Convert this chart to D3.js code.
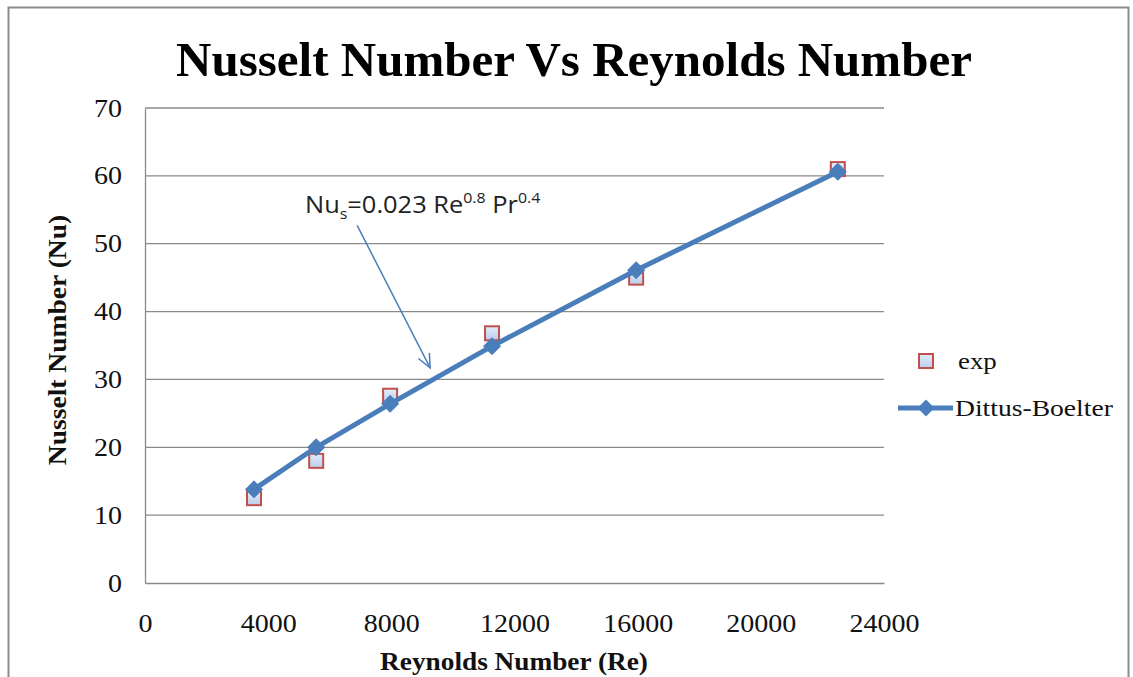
<!DOCTYPE html>
<html>
<head>
<meta charset="utf-8">
<script src="https://cdn.jsdelivr.net/npm/d3@7"></script>
<style>
  html, body { margin: 0; padding: 0; background: #fff; }
  svg { display: block; }
</style>
</head>
<body>
<svg id="chart" width="1133" height="677"></svg>
<script>
// Reynolds numbers of the test runs
const reynolds = [3540, 5560, 7960, 11270, 15950, 22500];
// Measured Nusselt numbers
const expNu = [12.5, 18.0, 27.6, 36.8, 45.0, 61.0];
// Dittus-Boelter correlation values
const dbNu = [13.8, 20.0, 26.4, 34.9, 46.1, 60.6];
// Axis ticks
const xTicks = [0, 4000, 8000, 12000, 16000, 20000, 24000];
const yTicks = [0, 10, 20, 30, 40, 50, 60, 70];
// Callout arrow for the correlation (data coordinates: tail then head)
const calloutTail = [6890, 52.7];
const calloutHead = [9260, 31.7];

const svg = d3.select("#chart");
const serif = "'Liberation Serif', 'Times New Roman', serif";
const wide = 1.12; // horizontal stretch of the labels

// outer chart frame
svg.append("rect")
  .attr("x", 8.5).attr("y", 7.5)
  .attr("width", 1120).attr("height", 680)
  .attr("fill", "#fff").attr("stroke", "#8c8c8c").attr("stroke-width", 2);

const plot = { left: 145, right: 884, top: 108, bottom: 583 };
const x = d3.scaleLinear().domain([0, 24000]).range([plot.left, plot.right]);
const y = d3.scaleLinear().domain([0, 70]).range([plot.bottom, plot.top]);

// horizontal gridlines
svg.append("g").selectAll("line")
  .data(yTicks.filter(v => v > 0))
  .join("line")
  .attr("x1", plot.left).attr("x2", plot.right)
  .attr("y1", d => y(d)).attr("y2", d => y(d))
  .attr("stroke", "#8a8a8a").attr("stroke-width", 1.3);

// y axis
const yAxis = svg.append("g")
  .attr("transform", `translate(${plot.left},0)`)
  .call(d3.axisLeft(y).tickValues(yTicks).tickSize(0).tickPadding(23));
yAxis.select(".domain").attr("stroke", "#8a8a8a").attr("stroke-width", 1.3);
yAxis.selectAll("text")
  .attr("font-family", serif).attr("font-size", 25).attr("fill", "#111")
  .attr("transform", function () {
    const tx = +d3.select(this).attr("x");
    return `translate(${tx},0) scale(${wide},1) translate(${-tx},0)`;
  });

// x axis
const xAxis = svg.append("g")
  .attr("transform", `translate(0,${plot.bottom})`)
  .call(d3.axisBottom(x).tickValues(xTicks).tickFormat(d3.format("d")).tickSize(0).tickPadding(31));
xAxis.select(".domain").attr("stroke", "#8a8a8a").attr("stroke-width", 1.3);
xAxis.selectAll("text")
  .attr("font-family", serif).attr("font-size", 25).attr("fill", "#111")
  .attr("transform", `scale(${wide},1)`);

// title
svg.append("text")
  .attr("x", 574).attr("y", 76)
  .attr("text-anchor", "middle")
  .attr("font-family", serif).attr("font-weight", "bold").attr("font-size", 49)
  .attr("fill", "#000")
  .text("Nusselt Number Vs Reynolds Number");

// axis titles
svg.append("text")
  .attr("transform", "translate(514,670) scale(1.05,1)")
  .attr("text-anchor", "middle")
  .attr("font-family", serif).attr("font-weight", "bold").attr("font-size", 26)
  .attr("fill", "#111")
  .text("Reynolds Number (Re)");

svg.append("text")
  .attr("transform", "translate(66,340) rotate(-90) scale(1.06,1)")
  .attr("text-anchor", "middle")
  .attr("font-family", serif).attr("font-weight", "bold").attr("font-size", 26)
  .attr("fill", "#111")
  .text("Nusselt Number (Nu)");

const blue = "#4a7ebb";
const red = "#c0504d";

// fill for the square markers
const defs = svg.append("defs");
const grad = defs.append("linearGradient").attr("id", "sqFill")
  .attr("x1", 0).attr("y1", 0).attr("x2", 0).attr("y2", 1);
grad.append("stop").attr("offset", "0%").attr("stop-color", "#e4ecf8");
grad.append("stop").attr("offset", "100%").attr("stop-color", "#b9cdec");

const expPts = reynolds.map((r, i) => [r, expNu[i]]);
const dbPts = reynolds.map((r, i) => [r, dbNu[i]]);

// experimental squares
const sq = 14;
svg.append("g").selectAll("rect")
  .data(expPts)
  .join("rect")
  .attr("x", d => x(d[0]) - sq / 2).attr("y", d => y(d[1]) - sq / 2)
  .attr("width", sq).attr("height", sq)
  .attr("fill", "url(#sqFill)").attr("stroke", red).attr("stroke-width", 2);

// correlation line
svg.append("path")
  .datum(dbPts)
  .attr("fill", "none").attr("stroke", blue).attr("stroke-width", 5)
  .attr("stroke-linejoin", "round")
  .attr("d", d3.line().x(d => x(d[0])).y(d => y(d[1])));

// equal-sided diamond marker
const dr = 8.5;
const diamondPath = `M0,${-dr}L${dr},0L0,${dr}L${-dr},0Z`;
svg.append("g").selectAll("path")
  .data(dbPts)
  .join("path")
  .attr("transform", d => `translate(${x(d[0])},${y(d[1])})`)
  .attr("d", diamondPath)
  .attr("fill", blue).attr("stroke", blue).attr("stroke-width", 1).attr("stroke-linejoin", "round");

// callout label
const callout = svg.append("text")
  .attr("transform", "translate(305,213) scale(1.06,1)")
  .attr("font-family", "'Open Sans', 'Noto Sans', sans-serif").attr("font-size", 24)
  .attr("fill", "#222");
callout.append("tspan").text("Nu");
callout.append("tspan").attr("font-size", 15).attr("dy", 6).text("s");
callout.append("tspan").attr("dy", -6).text("=0.023 Re");
callout.append("tspan").attr("font-size", 15).attr("dy", -10).text("0.8");
callout.append("tspan").attr("dy", 10).text(" Pr");
callout.append("tspan").attr("font-size", 15).attr("dy", -10).text("0.4");

// callout arrow
const tx = x(calloutTail[0]), ty = y(calloutTail[1]);
const hx = x(calloutHead[0]), hy = y(calloutHead[1]);
svg.append("line")
  .attr("x1", tx).attr("y1", ty).attr("x2", hx).attr("y2", hy)
  .attr("stroke", blue).attr("stroke-width", 1.5);
const ang = Math.atan2(hy - ty, hx - tx);
const headLen = 15, spread = 0.42;
svg.append("path")
  .attr("d", d3.line()([
    [hx - headLen * Math.cos(ang - spread), hy - headLen * Math.sin(ang - spread)],
    [hx, hy],
    [hx - headLen * Math.cos(ang + spread), hy - headLen * Math.sin(ang + spread)]
  ]))
  .attr("fill", "none").attr("stroke", blue).attr("stroke-width", 1.5);

// legend
const lg = svg.append("g");
lg.append("rect")
  .attr("x", 926 - sq / 2).attr("y", 361 - sq / 2)
  .attr("width", sq).attr("height", sq)
  .attr("fill", "url(#sqFill)").attr("stroke", red).attr("stroke-width", 2);
lg.append("text")
  .attr("transform", `translate(958,369) scale(${wide},1)`)
  .attr("font-family", serif).attr("font-size", 24).attr("fill", "#111")
  .text("exp");
lg.append("line")
  .attr("x1", 898).attr("x2", 953).attr("y1", 408).attr("y2", 408)
  .attr("stroke", blue).attr("stroke-width", 5);
lg.append("path")
  .attr("transform", "translate(926,408)")
  .attr("d", diamondPath)
  .attr("fill", blue);
lg.append("text")
  .attr("transform", `translate(955,416) scale(1.15,1)`)
  .attr("font-family", serif).attr("font-size", 24).attr("fill", "#111")
  .text("Dittus-Boelter");
</script>
</body>
</html>
